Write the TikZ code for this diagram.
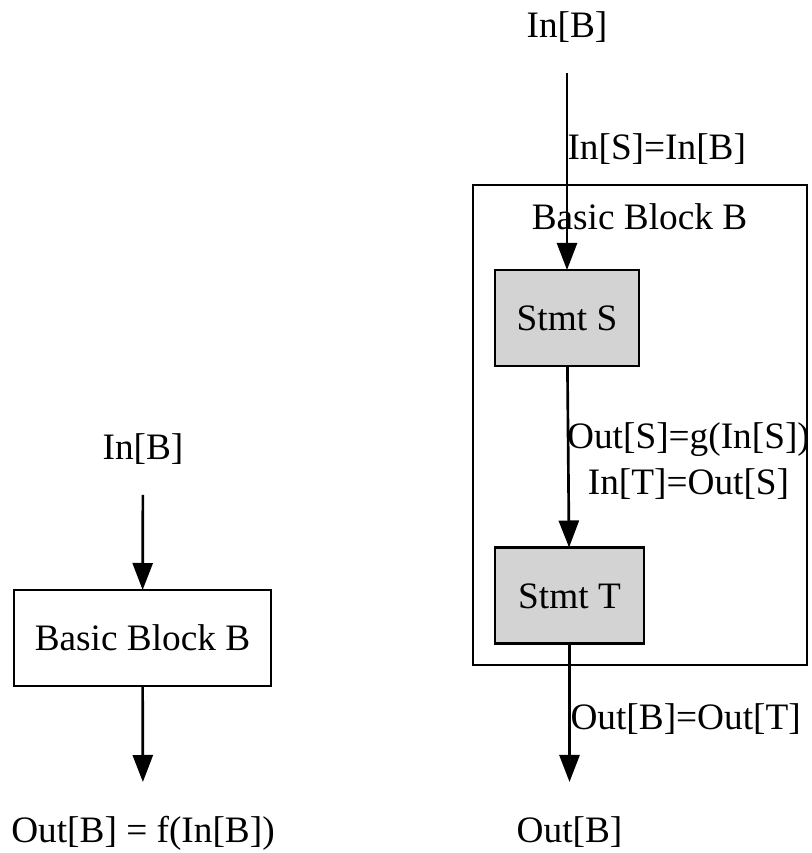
\documentclass[tikz,border=0pt]{standalone}
\usepackage{fontspec}
\setmainfont{Liberation Serif}
\usetikzlibrary{arrows.meta}
\definecolor{stmtgray}{HTML}{D3D3D3}
\tikzset{
  x=1pt, y=1pt,
  every node/.style={font=\fontsize{37.3}{46}\selectfont, inner sep=0pt, outer sep=0pt},
  plain/.style={minimum height=96pt, text height=31pt, text depth=5pt},
  block/.style={draw, line width=2.67pt, minimum height=96pt, text height=31pt, text depth=5pt},
  stmtbox/.style={block, fill=stmtgray},
  cluster/.style={draw, line width=2.67pt},
  flow/.style={line width=2.67pt, -{Triangle[length=27pt,width=20pt]}},
  lbl/.style={anchor=base west},
}
\begin{document}
\begin{tikzpicture}
\useasboundingbox (0,0) rectangle (811,853);

% ---- summary view: the block as a single transfer function ----
\node[plain] (inL) at (143,406) {In[B]};
\node[block, minimum width=257pt] (blockL) at (142.5,215) {Basic Block B};
\node[plain] (outL) at (143,23) {Out[B] = f(In[B])};
\draw[flow] (inL) -- (blockL);
\draw[flow] (blockL) -- (outL);

% ---- detailed view: statements inside the block ----
\draw[cluster] (473,668) rectangle (807,188);
\node[anchor=base] (clusterlbl) at (639.5,623) {Basic Block B};

\node[plain] (inR) at (567,828) {In[B]};
\node[stmtbox, minimum width=144pt] (stmtS) at (567,535) {Stmt S};
\node[stmtbox, minimum width=149pt] (stmtT) at (569.5,257.5) {Stmt T};
\node[plain] (outR) at (569.5,23) {Out[B]};

\draw[flow] (inR) -- (stmtS);
\draw[flow] (stmtS) -- (stmtT);
\draw[flow] (stmtT) -- (outR);

\node[lbl] (lblS) at (567.5,693) {In[S]=In[B]};
\node[anchor=base] (lblST) at (688.5,404)
  {\begin{tabular}[t]{@{}c@{}}Out[S]=g(In[S])\\In[T]=Out[S]\end{tabular}};
\node[lbl] (lblB) at (570.5,123) {Out[B]=Out[T]};
\end{tikzpicture}
\end{document}
